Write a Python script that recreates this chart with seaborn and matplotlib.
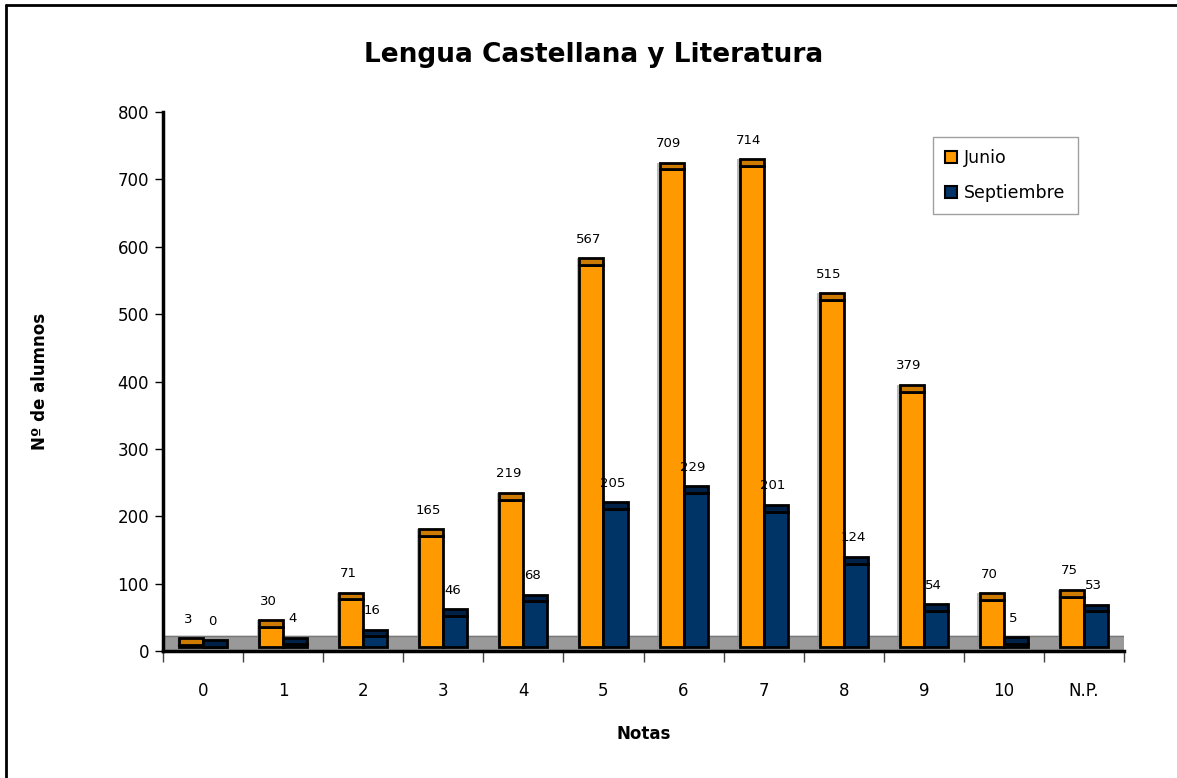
"""Lengua Castellana y Literatura: grade distribution, June vs September."""

import matplotlib.pyplot as plt
import pandas as pd
import seaborn as sns
from matplotlib.lines import Line2D
from matplotlib.patches import Rectangle

notas = ["0", "1", "2", "3", "4", "5", "6", "7", "8", "9", "10", "N.P."]
junio = [3, 30, 71, 165, 219, 567, 709, 714, 515, 379, 70, 75]
septiembre = [0, 4, 16, 46, 68, 205, 229, 201, 124, 54, 5, 53]
series = ["Junio", "Septiembre"]

colors = {"Junio": "#FF9900", "Septiembre": "#003366"}
cap_colors = {"Junio": "#CC7A00", "Septiembre": "#002147"}

frame = pd.DataFrame(
    {
        "nota": notas * 2,
        "alumnos": junio + septiembre,
        "serie": ["Junio"] * len(notas) + ["Septiembre"] * len(notas),
    }
)

sns.set_style("white")
plt.rcParams["font.family"] = ["DejaVu Sans"]
plt.rcParams["text.color"] = "black"
plt.rcParams["axes.labelcolor"] = "black"
plt.rcParams["xtick.color"] = "black"
plt.rcParams["ytick.color"] = "black"

fig = plt.figure(figsize=(11.77, 7.78), dpi=100)
ax = fig.add_axes([0.1385, 0.163, 0.8165, 0.693])

sns.barplot(
    data=frame,
    x="nota",
    y="alumnos",
    hue="serie",
    order=notas,
    hue_order=series,
    palette=colors,
    saturation=1,
    width=0.6,
    edgecolor="black",
    linewidth=2,
    ax=ax,
    legend=False,
    zorder=3,
)

# fake 3D look: grey floor, bars lifted a little, darker cap on top
floor_h = 22
lift = 6
cap_h = 10
ax.axhspan(0, floor_h, color="#999999", zorder=1)
ax.axhline(floor_h, color="#777777", lw=1, zorder=1)

bars = list(ax.patches)
values = junio + septiembre
names = ["Junio"] * len(notas) + ["Septiembre"] * len(notas)
for rect, val, name in zip(bars, values, names):
    rect.set_y(lift)
    x, w = rect.get_x(), rect.get_width()
    top = lift + val
    # soft shadow to the left
    ax.add_patch(Rectangle((x - 0.03, lift), 0.03, val + cap_h, color="#8c8c8c",
                           alpha=0.6, zorder=2, lw=0))
    ax.add_patch(Rectangle((x, top), w, cap_h, facecolor=cap_colors[name],
                           edgecolor="black", lw=2, zorder=4))
    ax.annotate(str(val), (x + w / 2, top + cap_h), xytext=(-2, 9),
                textcoords="offset points", ha="center", va="bottom",
                fontsize=9.5, color="black")

ax.set_xlim(-0.5, len(notas) - 0.5)
ax.set_ylim(0, 800)
ax.set_yticks(range(0, 801, 100))
ax.set_xticks([i + 0.5 for i in range(-1, len(notas))], minor=True)
ax.tick_params(axis="x", which="major", length=0, pad=22, labelsize=12)
ax.tick_params(axis="x", which="minor", length=8, width=1, color="#444444",
               direction="out", bottom=True)
ax.tick_params(axis="y", length=6, width=1, direction="out", left=True,
               labelsize=12, pad=4)

for side in ["top", "right"]:
    ax.spines[side].set_visible(False)
ax.spines["left"].set_linewidth(2.5)
ax.spines["bottom"].set_linewidth(2.5)
ax.spines["left"].set_color("black")
ax.spines["bottom"].set_color("black")

ax.set_xlabel("Notas", fontsize=12, fontweight="bold", labelpad=18)
ax.set_ylabel("Nº de alumnos", fontsize=12, fontweight="bold", labelpad=49)
fig.text(0.504, 0.929, "Lengua Castellana y Literatura", ha="center",
         va="center", fontsize=19, fontweight="bold")

handles = [
    Rectangle((0, 0), 1, 1, facecolor=colors[s], edgecolor="black", lw=1.5)
    for s in series
]
leg = ax.legend(handles, series, loc="upper left",
                bbox_to_anchor=(0.801, 0.954), frameon=True, fancybox=False,
                fontsize=12.5, handlelength=0.7, handleheight=0.7,
                handletextpad=0.4, borderpad=0.7, labelspacing=1.0,
                borderaxespad=0)
leg.get_frame().set_edgecolor("#888888")
leg.get_frame().set_linewidth(1)

# outer chart frame (only left and top show in the original crop)
fig.add_artist(Line2D([0.0055, 0.0055], [0, 0.993], transform=fig.transFigure,
                      color="black", lw=2))
fig.add_artist(Line2D([0.0055, 1], [0.993, 0.993], transform=fig.transFigure,
                      color="black", lw=2))

fig.savefig("out.png", dpi=100)
